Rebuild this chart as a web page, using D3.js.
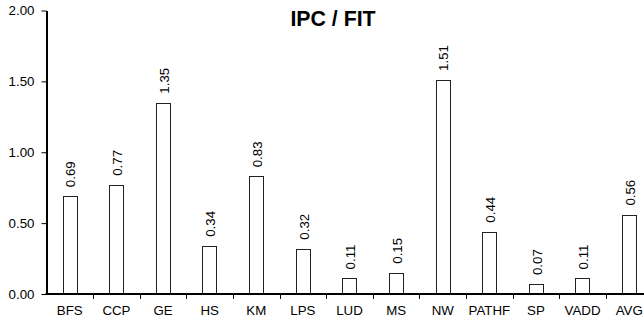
<!DOCTYPE html>
<html>
<head>
<meta charset="utf-8">
<script src="https://cdn.jsdelivr.net/npm/d3@7"></script>
<style>
  body { margin: 0; background: #fff; }
  svg { display: block; font-family: "Liberation Sans", Arial, sans-serif; }
  .axis path, .axis line { stroke: #000; }
  .bar { fill: #fff; stroke: #222; stroke-width: 1; }
</style>
</head>
<body>
<div id="chart"></div>
<script>
const categories = ['BFS', 'CCP', 'GE', 'HS', 'KM', 'LPS', 'LUD', 'MS', 'NW', 'PATHF', 'SP', 'VADD', 'AVG'];
const values = [0.69, 0.77, 1.35, 0.34, 0.83, 0.32, 0.11, 0.15, 1.51, 0.44, 0.07, 0.11, 0.56];
const yTicks = [0, 0.5, 1, 1.5, 2];
const title = 'IPC / FIT';

const width = 644, height = 324;
const x0 = 46.5, x1 = 652.5, yTop = 10.5, yBottom = 294;

const svg = d3.select('#chart')
  .append('svg')
    .attr('width', width)
    .attr('height', height);

const x = d3.scaleBand()
  .domain(categories)
  .range([x0, x1]);

const y = d3.scaleLinear()
  .domain([0, 2])
  .range([yBottom, yTop]);

const barW = x.bandwidth() * 0.31;

// bars
svg.selectAll('.bar')
  .data(values)
  .enter()
  .append('rect')
    .attr('class', 'bar')
    .attr('x', (d, i) => Math.round(x(categories[i]) + x.bandwidth() / 2 - barW / 2) + 0.5)
    .attr('y', d => Math.round(y(d)) + 0.5)
    .attr('width', Math.round(barW))
    .attr('height', d => yBottom - Math.round(y(d)) - 0.5);

// value labels, rotated
svg.selectAll('.val')
  .data(values)
  .enter()
  .append('text')
    .attr('class', 'val')
    .attr('transform', (d, i) => `translate(${x(categories[i]) + x.bandwidth() / 2 + 1},${y(d) - 9}) rotate(-90)`)
    .attr('dy', '0.35em')
    .attr('font-size', 13.3)
    .attr('fill', '#000')
    .text(d => d.toFixed(2));

// y axis
const yAxis = svg.append('g')
  .attr('class', 'axis')
  .attr('transform', `translate(${x0},0)`)
  .call(d3.axisLeft(y).tickValues(yTicks).tickFormat(d3.format('.2f')).tickSize(5).tickSizeOuter(0));
yAxis.select('.domain').attr('stroke-width', 2);
yAxis.selectAll('.tick line').attr('stroke-width', 1);
yAxis.selectAll('.tick text')
  .attr('font-size', 13.3)
  .attr('fill', '#000')
  .attr('x', -12);

// x axis: ticks at category boundaries
const xAxis = svg.append('g')
  .attr('class', 'axis')
  .attr('transform', `translate(0,${yBottom})`);
xAxis.append('line')
  .attr('x1', x0 - 1).attr('x2', width)
  .attr('stroke', '#000')
  .attr('stroke-width', 2);
xAxis.selectAll('.bt')
  .data(categories.slice(1))
  .enter()
  .append('line')
    .attr('class', 'bt')
    .attr('x1', d => Math.round(x(d)) + 0.5)
    .attr('x2', d => Math.round(x(d)) + 0.5)
    .attr('y1', 0)
    .attr('y2', 5)
    .attr('stroke', '#333');
xAxis.selectAll('.xl')
  .data(categories)
  .enter()
  .append('text')
    .attr('class', 'xl')
    .attr('x', d => x(d) + x.bandwidth() / 2)
    .attr('y', 21)
    .attr('text-anchor', 'middle')
    .attr('font-size', 13.3)
    .attr('fill', '#000')
    .text(d => d);

// title
svg.append('text')
  .attr('x', 333)
  .attr('y', 26)
  .attr('text-anchor', 'middle')
  .attr('font-size', 21.3)
  .attr('font-weight', 'bold')
  .text(title);
</script>
</body>
</html>
